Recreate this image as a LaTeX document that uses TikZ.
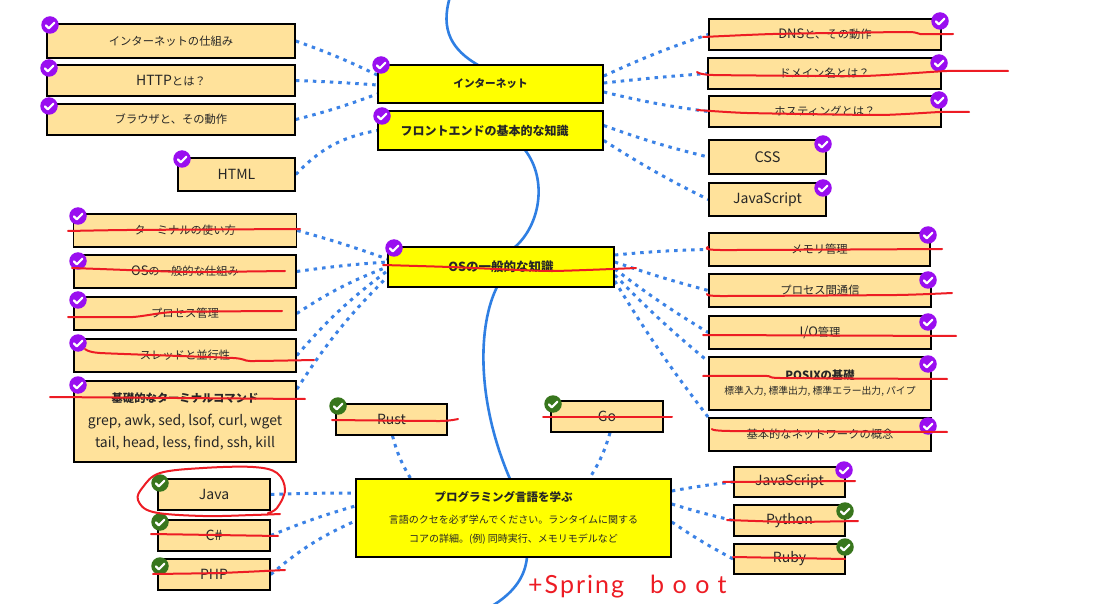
\documentclass[tikz,border=0pt]{standalone}
\usepackage{fontspec}
\setmainfont{Noto Sans CJK JP}
\newfontfamily\handfont[LetterSpace=8]{Lato}
\newfontfamily\handwide[LetterSpace=34]{Lato}
\usetikzlibrary{backgrounds}
\definecolor{boxfill}{HTML}{FFE29B}
\definecolor{mainfill}{HTML}{FFFF00}
\definecolor{linkblue}{HTML}{3B82E6}
\definecolor{spineblue}{HTML}{2F7FE3}
\definecolor{inkred}{HTML}{ED1C24}
\definecolor{donepurple}{HTML}{9A0EF0}
\definecolor{donegreen}{HTML}{38761D}
\tikzset{
  topic/.style={draw=black,line width=1.6pt,fill=boxfill,inner sep=0pt,align=center,
    font=\fontsize{11.3}{16}\selectfont,text=black!85},
  latin/.style={font=\fontsize{14}{18}\selectfont},
  mainbox/.style={topic,fill=mainfill,font=\fontsize{12}{17}\selectfont\bfseries},
  badge/.style={circle,fill=#1,minimum size=17.5pt,inner sep=0pt,
    path picture={\draw[white,line width=2.2pt,line cap=round,line join=round]
      (path picture bounding box.center) ++(-4.2,0.3) -- ++(3,3) -- ++(5.6,-5.6);}},
  link/.style={linkblue,line width=3pt,dash pattern=on 3.5pt off 5pt},
  spine/.style={spineblue,line width=2.6pt,line cap=round},
  ink/.style={inkred,line width=2pt,line cap=round,line join=round},
}
\newcommand{\inkline}[1]{\draw[ink] plot[smooth,tension=.3] coordinates {#1};}
\begin{document}
\begin{tikzpicture}[x=1pt,y=-1pt]
\useasboundingbox (0,0) rectangle (1096,604);

% left upper
\node[topic,minimum width=248,minimum height=34] (a1) at (171,41) {インターネットの仕組み};
\node[topic,latin,minimum width=248,minimum height=31] (a2) at (171,80.5) {HTTP{\fontsize{11.3}{16}\selectfont とは？}};
\node[topic,minimum width=248,minimum height=31] (a3) at (171,119.5) {\raisebox{1pt}{ブラウザと、その動作}};
\node[topic,latin,minimum width=117,minimum height=33] (html) at (236.5,174.5) {HTML};
% centre
\node[mainbox,font=\fontsize{10.6}{17}\selectfont\bfseries,minimum width=225,minimum height=38] (inet) at (490.5,84) {インターネット};
\node[mainbox,minimum width=225,minimum height=39] (front) at (490.5,130.5) {\hspace*{-12pt}フロントエンドの基本的な知識};
\node[mainbox,font=\fontsize{12.5}{17}\selectfont\bfseries,minimum width=226,minimum height=40] (os) at (501,267) {OSの一般的な知識};
% right upper
\node[topic,minimum width=232,minimum height=31] (dns) at (825,34.5) {\raisebox{1pt}{\fontsize{13}{16}\selectfont DNS\fontsize{11.3}{16}\selectfont と、その動作}};
\node[topic,minimum width=233,minimum height=31] (dom) at (824.5,73.5) {ドメイン名とは？};
\node[topic,minimum width=232,minimum height=31] (host) at (825,111.5) {ホスティングとは？};
\node[topic,latin,minimum width=117,minimum height=34] (css) at (767.5,157) {\fontsize{14.5}{18}\selectfont CSS};
\node[topic,latin,minimum width=117,minimum height=33] (js) at (767.5,199.5) {JavaScript};
% left OS
\node[topic,minimum width=223,minimum height=33] (t1) at (185,230.5) {ターミナルの使い方};
\node[topic,minimum width=222,minimum height=33] (t2) at (185,271.5) {\fontsize{13}{16}\selectfont OS\fontsize{11.3}{16}\selectfont の一般的な仕組み};
\node[topic,minimum width=222,minimum height=33] (t3) at (185,313.5) {プロセス管理};
\node[topic,minimum width=222,minimum height=33] (t4) at (185,355.5) {スレッドと並行性};
\node[topic,minimum width=222,minimum height=81,font=\fontsize{14}{22.5}\selectfont] (t5) at (185,421.5) {{\fontsize{11.3}{22.5}\selectfont\bfseries 基礎的なターミナルコマンド}\\grep, awk, sed, lsof, curl, wget\\tail, head, less, find, ssh, kill};
% right OS
\node[topic,minimum width=221,minimum height=33] (m1) at (819.5,249.5) {メモリ管理};
\node[topic,minimum width=222,minimum height=33] (m2) at (820,290.5) {プロセス間通信};
\node[topic,minimum width=222,minimum height=33] (m3) at (820,332.5) {\fontsize{13}{16}\selectfont I/O\fontsize{11.3}{16}\selectfont 管理};
\node[topic,minimum width=222,minimum height=53] (m4) at (820,383.5) {\textbf{POSIXの基礎}\\[-1pt]{\fontsize{9.8}{14}\selectfont 標準入力, 標準出力, 標準エラー出力, パイプ}};
\node[topic,minimum width=222,minimum height=33] (m5) at (820,434.5) {基本的なネットワークの概念};
% languages
\node[topic,latin,minimum width=111,minimum height=31] (rust) at (391.5,419.5) {Rust};
\node[topic,latin,minimum width=112,minimum height=31] (go) at (607,416.5) {Go};
\node[mainbox,font=\fontsize{10}{19}\selectfont,minimum width=315,minimum height=78] (prog) at (513.5,518) {\hspace*{-20pt}{\fontsize{11.5}{19}\selectfont\bfseries プログラミング言語を学ぶ}\\[3pt]\mdseries 言語のクセを必ず学んでください。ランタイムに関する\\\mdseries コアの詳細。(例) 同時実行、メモリモデルなど};
\node[topic,latin,minimum width=112,minimum height=31] (java) at (214,494.5) {Java};
\node[topic,latin,minimum width=112,minimum height=31] (csh) at (214,535.5) {C\#};
\node[topic,latin,minimum width=112,minimum height=31] (php) at (214,574.5) {PHP};
\node[topic,latin,minimum width=111,minimum height=30] (js2) at (789.5,482) {JavaScript};
\node[topic,latin,minimum width=111,minimum height=31] (py) at (789.5,520.5) {Python};
\node[topic,latin,minimum width=111,minimum height=30] (rb) at (789.5,559) {Ruby};

\begin{scope}[on background layer]
  \fill[white] (0,0) rectangle (1096,604);
  \clip (0,0) rectangle (1096,604);
  \draw[spine] (450,-3) .. controls (440,30) and (452,50) .. (478,65);
  \draw[spine] (525,150) .. controls (548,180) and (540,225) .. (515,247);
  \draw[spine] (497,287) .. controls (478,325) and (476,400) .. (510,479);
  \draw[spine] (527,557) .. controls (525,580) and (510,595) .. (492,606);
  \draw[link] (a1.east) to[bend left=3] ([yshift=9]inet.west);
  \draw[link] (a2.east) to[bend left=1] ([yshift=-1]inet.west);
  \draw[link] (a3.east) to[bend right=3] ([yshift=-10]inet.west);
  \draw[link] (html.east) to[bend left=18] (front.west);
  \draw[link] ([yshift=8]inet.east) to[bend left=3] (dns.west);
  \draw[link] ([yshift=1]inet.east) to[bend left=1] (dom.west);
  \draw[link] ([yshift=-8]inet.east) to[bend right=3] (host.west);
  \draw[link] ([yshift=5]front.east) to[bend right=3] (css.west);
  \draw[link] ([yshift=-10]front.east) to[bend right=3] (js.west);
  \draw[link] (t1.east) to[bend left=2] ([yshift=8]os.west);
  \draw[link] (t2.east) to[bend left=2] ([yshift=5]os.west);
  \draw[link] (t3.east) to[bend left=6] ([yshift=0]os.west);
  \draw[link] (t4.east) to[bend left=6] ([yshift=-4]os.west);
  \draw[link] ([yshift=-9]t5.north east) to[bend left=6] ([yshift=-10]os.west);
  \draw[link] ([yshift=12]os.east) to[bend left=2] (m1.west);
  \draw[link] ([yshift=5]os.east) to[bend right=2] (m2.west);
  \draw[link] ([yshift=-2]os.east) to[bend right=3] (m3.west);
  \draw[link] ([yshift=-8]os.east) to[bend right=3] ([yshift=22]m4.west);
  \draw[link] ([yshift=-14]os.east) to[bend right=3] (m5.north west);
  \draw[link] ([xshift=1]rust.south) to[bend right=8] ([xshift=-103]prog.north);
  \draw[link] ([xshift=3]go.south) to[bend left=8] ([xshift=76]prog.north);
  \draw[link] (java.east) to[bend left=1] ([yshift=25]prog.west);
  \draw[link] (csh.east) to[bend left=3] ([yshift=12]prog.west);
  \draw[link] (php.east) to[bend left=8] ([yshift=-3]prog.west);
  \draw[link] ([yshift=27]prog.east) to[bend left=2] (js2.west);
  \draw[link] ([yshift=14]prog.east) to[bend right=2] (py.west);
  \draw[link] ([yshift=-4]prog.east) to[bend right=3] (rb.west);
\end{scope}

% purple badges
\foreach \nm/\cx/\cy in {b1/50/25,b2/49/68,b3/49/106,b4/182/159,b5/381/65,b6/382/116,b7/78/216,b8/78/261,b9/78/300,b10/78/343,b11/78/385,b12/394/248,b13/940/21,b14/939/63,b15/939/100,b16/823/144,b17/823/188,b18/928/235,b19/928/280,b20/928/322,b21/928/364,b22/928/426,b23/844/470}
  \node[badge=donepurple] (\nm) at (\cx,\cy) {};
% green badges
\foreach \nm/\cx/\cy in {g1/338/406,g2/553/404,g3/160/483,g4/160/522,g5/160/566,g6/845/511,g7/845/547}
  \node[badge=donegreen] (\nm) at (\cx,\cy) {};

% red pen
\inkline{(703,37)(773,34)(907,32)(920,34)(953,34)}
\inkline{(697,72)(713,75)(863,76)(947,71)(1008,71)}
\inkline{(697,110)(747,113)(880,115)(940,112)(969,112)}
\inkline{(68,231)(127,230)(300,229)}
\inkline{(72,268)(100,269)(187,272)(285,271)}
\inkline{(68,317)(133,317)(173,312)(282,311)}
\inkline{(85,349)(100,353)(233,358)(250,361)(314,360)}
\inkline{(50,397)(305,399)}
\inkline{(383,265)(450,267)(550,271)(636,268)}
\inkline{(708,247)(720,250)(942,249)}
\inkline{(707,294)(720,296)(897,295)(952,293)}
\inkline{(703,335)(956,336)}
\inkline{(703,376)(767,376)(780,378)(947,379)}
\inkline{(712,429)(730,431)(947,432)}
\inkline{(332,420)(440,421)(458,419)}
\inkline{(543,417)(672,417)}
\inkline{(723,482)(855,481)}
\inkline{(727,520)(790,522)(858,521)}
\inkline{(733,557)(845,559)}
\inkline{(151,534)(278,536)}
\inkline{(153,574)(220,573)(285,570)}
\draw[ink] plot[smooth,tension=.6] coordinates {(280,514)(253,515)(203,516)(153,512)(138,500)(143,487)(160,473)(203,468)(253,467)(277,473)(285,490)(277,508)(268,513)};
\node[text=inkred,font=\fontsize{25}{28}\handfont,inner sep=0pt,anchor=base west] (spring) at (528,593) {+Spring\hspace{26pt}{\handwide boot}};
\end{tikzpicture}
\end{document}
